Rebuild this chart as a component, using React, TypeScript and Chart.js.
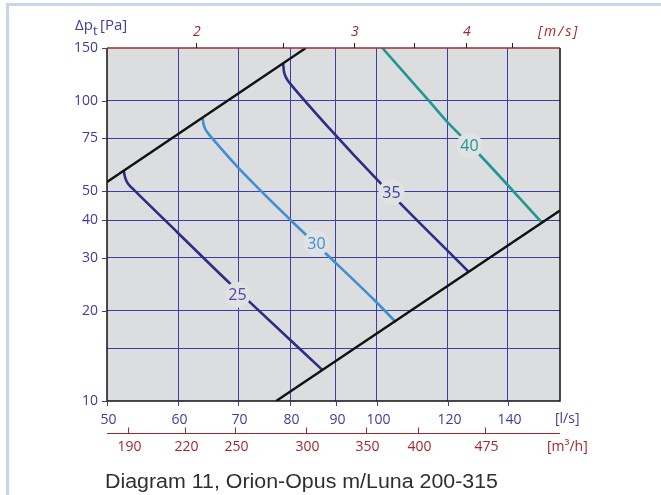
import React, { useEffect, useRef } from "react";
import { Chart, registerables } from "chart.js";

Chart.register(...registerables);

// ---- axes ----
const X_MIN = 50;
const X_MAX = 160;
const Y_MIN = 10;
const Y_MAX = 150;
const xTickLabels = [50, 60, 70, 80, 90, 100, 120, 140];
const xGridValues = [60, 70, 80, 90, 100, 120, 140];
const yTickLabels = [10, 20, 30, 40, 50, 75, 100, 150];
const yGridValues = [15, 20, 30, 40, 50, 75, 100];
const velocityTicks = [2, 2.5, 3, 3.5, 4, 4.5];
const velocityLabels = [2, 3, 4];
const m3hTicks = [190, 220, 250, 300, 350, 400, 475];
const DUCT_AREA_M2 = Math.PI * 0.1 * 0.1; // Ø200 duct

// ---- limit lines ----
const upperLimitQ = [50, 83.3];
const upperLimitP = [53.7, 150];
const lowerLimitQ = [77.2, 160];
const lowerLimitP = [10, 43.1];

// ---- sound level curves (l/s, Pa) ----
const nc25Q = [52.2, 52.33, 52.56, 52.96, 53.58, 60, 68.5, 72.1, 86.9];
const nc25P = [58.5, 56.2, 54.1, 52.3, 50.5, 36.3, 24.7, 21.4, 12.7];
const nc30Q = [63.9, 64.06, 64.34, 64.84, 65.6, 69.9, 80.1, 88.4, 99.3, 105];
const nc30P = [87.7, 83.8, 80.7, 77.9, 74.7, 60.3, 40.1, 30.3, 21.7, 18.3];
const nc35Q = [78.6, 78.74, 79.02, 79.53, 80.24, 88.4, 100.6, 126.6];
const nc35P = [132.7, 125.9, 121.2, 117.0, 113.1, 81.3, 53.7, 26.9];
const nc40Q = [101.4, 114.3, 119.2, 129.7, 152.5];
const nc40P = [150, 100, 86.5, 66.9, 39.5];

// ---- curve labels ----
const labelTexts = ["25", "30", "35", "40"];
const labelQ = [69.9, 85.6, 103.8, 126.8];
const labelP = [22.6, 33.6, 49.7, 71.0];
const labelColors = ["#5845a6", "#3f8fd2", "#3d3d9c", "#1f9893"];

const caption = "Diagram 11, Orion-Opus m/Luna 200-315";

const BLUE = "#3d3d9c";
const RED = "#a3282d";
const GRID = "#3c3cab";
const NAVY = "#2b2d86";
const LIGHTBLUE = "#3f8fd2";
const TEAL = "#1f9893";
const TICK_FONT = '"Open Sans", "DejaVu Sans", sans-serif';

const pts = (q: number[], p: number[]) => q.map((v, i) => ({ x: v, y: p[i] }));

const decor = {
  id: "decor",
  beforeDraw(chart: any) {
    const { ctx, chartArea: a } = chart;
    ctx.save();
    ctx.fillStyle = "#ffffff";
    ctx.fillRect(0, 0, chart.width, chart.height);
    ctx.fillStyle = "#cbd4ec";
    ctx.fillRect(6, 3, chart.width - 6, 3);
    ctx.fillRect(6, 3, 3, chart.height - 3);
    ctx.fillStyle = "#dcdddf";
    ctx.fillRect(a.left, a.top, a.right - a.left, a.bottom - a.top);
    ctx.restore();
  },
  beforeDatasetsDraw(chart: any) {
    const { ctx, chartArea: a } = chart;
    ctx.save();
    ctx.lineWidth = 1.5;
    ctx.strokeStyle = "#111";
    ctx.beginPath();
    ctx.moveTo(a.left, a.top);
    ctx.lineTo(a.left, a.bottom);
    ctx.lineTo(a.right, a.bottom);
    ctx.lineTo(a.right, a.top);
    ctx.stroke();
    ctx.restore();
  },
  afterDatasetsDraw(chart: any) {
    const { ctx } = chart;
    const xs = chart.scales.x;
    const ys = chart.scales.y;
    ctx.save();
    ctx.font = `16px ${TICK_FONT}`;
    ctx.textAlign = "center";
    ctx.textBaseline = "middle";
    labelTexts.forEach((t, i) => {
      const px = xs.getPixelForValue(labelQ[i]);
      const py = ys.getPixelForValue(labelP[i]);
      ctx.fillStyle = "#e1e2e4";
      ctx.beginPath();
      ctx.arc(px, py, 13, 0, Math.PI * 2);
      ctx.fill();
      ctx.fillStyle = labelColors[i];
      ctx.fillText(t, px, py + 1);
    });
    ctx.restore();
  },
  afterDraw(chart: any) {
    const { ctx, chartArea: a } = chart;
    const xs = chart.scales.x;
    const ys = chart.scales.y;
    ctx.save();
    // top red line
    ctx.strokeStyle = RED;
    ctx.lineWidth = 1.5;
    ctx.beginPath();
    ctx.moveTo(a.left, a.top);
    ctx.lineTo(a.right, a.top);
    ctx.stroke();

    // y axis labels and ticks
    ctx.font = `14px ${TICK_FONT}`;
    ctx.fillStyle = BLUE;
    ctx.strokeStyle = BLUE;
    ctx.lineWidth = 1;
    ctx.textAlign = "right";
    ctx.textBaseline = "middle";
    yTickLabels.forEach((v) => {
      const py = Math.round(ys.getPixelForValue(v)) + 0.5;
      ctx.beginPath();
      ctx.moveTo(a.left - 5, py);
      ctx.lineTo(a.left, py);
      ctx.stroke();
      ctx.fillText(String(v), a.left - 9, py);
    });

    // x axis labels and ticks
    ctx.textAlign = "center";
    xTickLabels.forEach((v) => {
      const px = Math.round(xs.getPixelForValue(v)) + 0.5;
      ctx.beginPath();
      ctx.moveTo(px, a.bottom);
      ctx.lineTo(px, a.bottom + 5);
      ctx.stroke();
      ctx.fillText(String(v), px + 1, a.bottom + 19);
    });
    ctx.textAlign = "left";
    ctx.fillText("[l/s]", a.right - 5, a.bottom + 18);

    // y title
    ctx.textBaseline = "alphabetic";
    ctx.font = `15px ${TICK_FONT}`;
    ctx.fillText("Δp", 75, 30);
    ctx.font = `13px ${TICK_FONT}`;
    ctx.fillText("t", 93, 35);
    ctx.font = `15px ${TICK_FONT}`;
    ctx.fillText("[Pa]", 100, 30);

    // m3/h axis
    const yR = a.bottom + 32.5;
    ctx.strokeStyle = RED;
    ctx.fillStyle = RED;
    ctx.lineWidth = 1.2;
    ctx.beginPath();
    ctx.moveTo(a.left, yR);
    ctx.lineTo(a.right, yR);
    ctx.stroke();
    ctx.lineWidth = 1;
    ctx.font = `14px ${TICK_FONT}`;
    ctx.textAlign = "center";
    ctx.textBaseline = "middle";
    m3hTicks.forEach((v) => {
      const px = Math.round(xs.getPixelForValue(v / 3.6)) + 0.5;
      ctx.beginPath();
      ctx.moveTo(px, yR - 6);
      ctx.lineTo(px, yR);
      ctx.stroke();
      ctx.fillText(String(v), px + 1, a.bottom + 46);
    });
    ctx.textAlign = "left";
    ctx.fillText("[m³/h]", a.right - 13, a.bottom + 46);

    // m/s axis
    ctx.strokeStyle = "#222";
    velocityTicks.forEach((v) => {
      const px = Math.round(xs.getPixelForValue(v * DUCT_AREA_M2 * 1000)) + 0.5;
      ctx.beginPath();
      ctx.moveTo(px, a.top - 5);
      ctx.lineTo(px, a.top);
      ctx.stroke();
    });
    ctx.font = `italic 14px ${TICK_FONT}`;
    ctx.textAlign = "center";
    velocityLabels.forEach((v) => {
      const px = xs.getPixelForValue(v * DUCT_AREA_M2 * 1000);
      ctx.fillText(String(v), px + 1, a.top - 16);
    });
    ctx.textAlign = "left";
    (ctx as any).letterSpacing = "2px";
    ctx.fillText("[m/s]", a.right - 22, a.top - 16);
    (ctx as any).letterSpacing = "0px";

    // caption
    ctx.font = '19.5px "Liberation Sans", Arial, sans-serif';
    ctx.fillStyle = "#2f2f2f";
    ctx.textAlign = "left";
    ctx.textBaseline = "alphabetic";
    const w = ctx.measureText(caption).width;
    const target = 393;
    const sx = target / w;
    ctx.save();
    ctx.translate(105, 488);
    ctx.scale(sx, 1);
    ctx.fillText(caption, 0, 0);
    ctx.restore();

    ctx.restore();
  },
};

export default function App() {
  const ref = useRef<HTMLCanvasElement | null>(null);
  useEffect(() => {
    if (!ref.current) return;
    const lineDs = (data: any[], color: string, width: number, smooth: boolean) => ({
      data,
      borderColor: color,
      borderWidth: width,
      pointRadius: 0,
      showLine: true,
      fill: false,
      cubicInterpolationMode: smooth ? "monotone" : "default",
      tension: smooth ? 0.4 : 0,
    });
    const chart = new Chart(ref.current, {
      type: "scatter",
      data: {
        datasets: [
          lineDs(pts(upperLimitQ, upperLimitP), "#111111", 2.4, false),
          lineDs(pts(lowerLimitQ, lowerLimitP), "#111111", 2.4, false),
          lineDs(pts(nc25Q, nc25P), NAVY, 2.6, true),
          lineDs(pts(nc30Q, nc30P), LIGHTBLUE, 2.6, true),
          lineDs(pts(nc35Q, nc35P), NAVY, 2.6, true),
          lineDs(pts(nc40Q, nc40P), TEAL, 2.6, true),
        ] as any,
      },
      options: {
        responsive: false,
        animation: false,
        devicePixelRatio: 1,
        layout: { padding: { left: 107, top: 48, right: 101, bottom: 94 } },
        plugins: { legend: { display: false }, tooltip: { enabled: false } },
        scales: {
          x: {
            type: "logarithmic",
            min: X_MIN,
            max: X_MAX,
            afterBuildTicks: (s: any) => {
              s.ticks = xGridValues.map((v) => ({ value: v }));
            },
            ticks: { display: false },
            grid: { color: GRID, lineWidth: 1, drawTicks: false },
            border: { display: false },
          },
          y: {
            type: "logarithmic",
            min: Y_MIN,
            max: Y_MAX,
            afterBuildTicks: (s: any) => {
              s.ticks = yGridValues.map((v) => ({ value: v }));
            },
            ticks: { display: false },
            grid: { color: GRID, lineWidth: 1, drawTicks: false },
            border: { display: false },
          },
        },
      } as any,
      plugins: [decor],
    });
    return () => chart.destroy();
  }, []);
  return (
    <div style={{ position: "fixed", left: 0, top: 0, width: 661, height: 495, background: "#fff" }}>
      <canvas ref={ref} width={661} height={495} style={{ width: 661, height: 495, display: "block" }} />
    </div>
  );
}
